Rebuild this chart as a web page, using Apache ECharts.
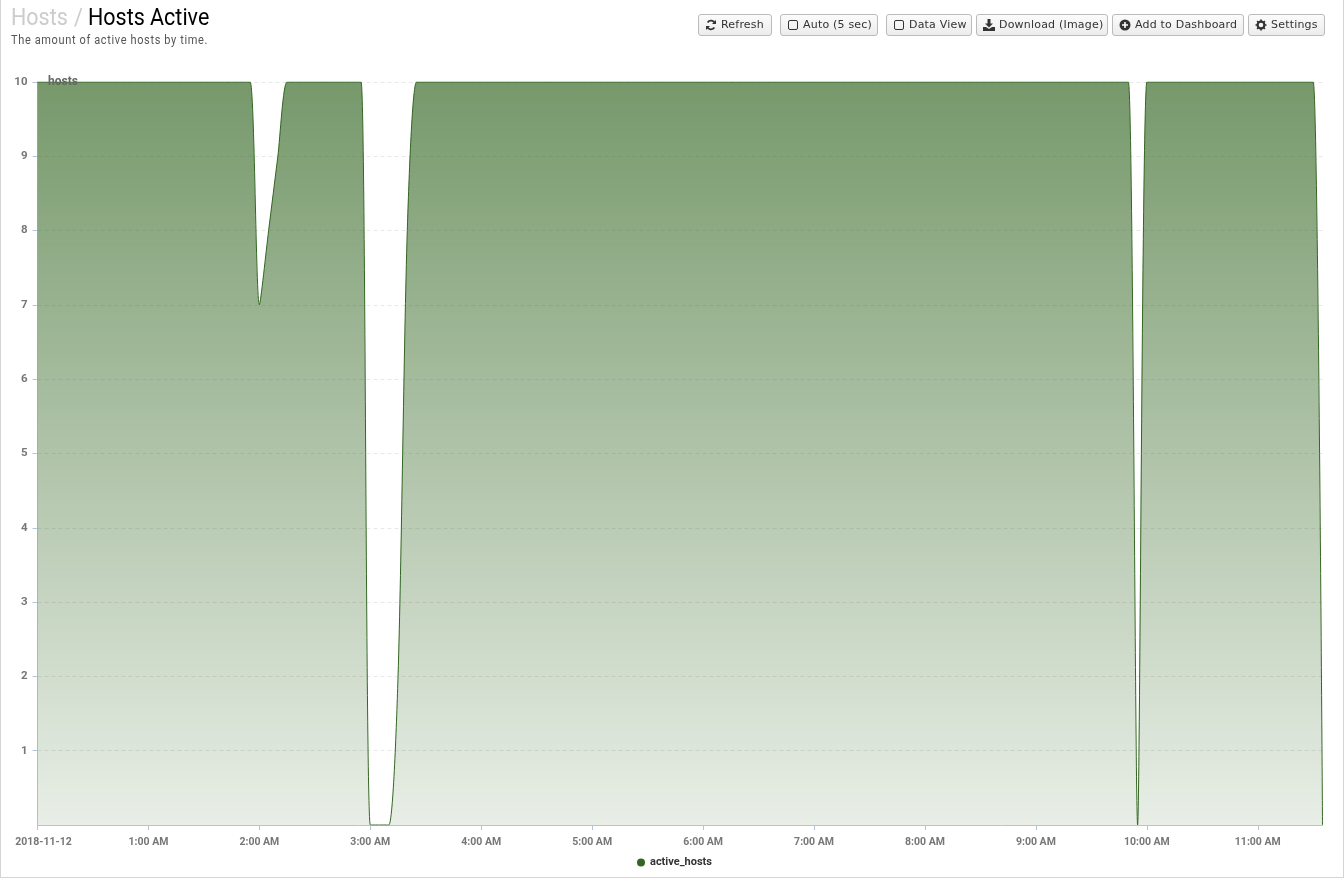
<!DOCTYPE html>
<html><head><meta charset="utf-8">
<script src="https://cdn.jsdelivr.net/npm/echarts@6/dist/echarts.min.js"></script>
<style>
html,body{margin:0;padding:0;background:#fff;overflow:hidden}
#frame{position:absolute;left:0;top:0;width:1342px;height:877px;border:1px solid #d4d4d4;border-top:0}
#chart{position:absolute;left:0;top:0;width:1344px;height:878px}
.t{position:absolute;white-space:pre;transform-origin:0 0;font-family:Roboto,sans-serif}
.btn{position:absolute;top:14px;height:20px;box-sizing:content-box;border:1px solid #bbb;border-radius:3px;background:linear-gradient(#fbfbfb,#ececec);font:11px/20px "DejaVu Sans",sans-serif;letter-spacing:.2px;color:#333;white-space:pre}
.btn svg{position:absolute;left:6px;top:4px;width:12px;height:12px}
.btn span{position:absolute;top:0}
</style></head><body>
<div id="frame"></div>
<div id="chart"></div>
<div class="t" style="left:11px;top:3px;font-size:24px;line-height:28px;word-spacing:1px;color:#ccc;transform:scaleX(.895)">Hosts /</div>
<div class="t" style="left:88px;top:3px;font-size:24px;line-height:28px;color:#000;transform:scaleX(.895)">Hosts Active</div>
<div class="t" style="left:11px;top:31.5px;font-size:12.5px;line-height:16px;letter-spacing:.72px;color:#555;transform:scaleX(.88)">The amount of active hosts by time.</div>
<div class="btn" style="left:698px;width:72px"><svg viewBox="0 0 12 12"><path d="M10 4.5A4.2 4.2 0 0 0 2.6 3.4M2 7.5a4.2 4.2 0 0 0 7.4 1.1" fill="none" stroke="#333" stroke-width="1.8"/><path d="M11 1v4H7zM1 11V7h4z" fill="#333"/></svg><span style="left:22px">Refresh</span></div>
<div class="btn" style="left:780px;width:96px"><svg viewBox="0 0 12 12"><rect x="1.5" y="1.5" width="9" height="9" rx="1.5" fill="none" stroke="#333"/></svg><span style="left:22px">Auto (5 sec)</span></div>
<div class="btn" style="left:886px;width:84px"><svg viewBox="0 0 12 12"><rect x="1.5" y="1.5" width="9" height="9" rx="1.5" fill="none" stroke="#333"/></svg><span style="left:22px">Data View</span></div>
<div class="btn" style="left:976px;width:130px"><svg viewBox="0 0 12 12"><path d="M4.5 0h3v4.5H10L6 8.5 2 4.5h2.5zM0 8h3l3 2 3-2h3v4H0z" fill="#333"/></svg><span style="left:22px">Download (Image)</span></div>
<div class="btn" style="left:1112px;width:130px"><svg viewBox="0 0 12 12"><circle cx="6" cy="6" r="5.5" fill="#333"/><path d="M6 3v6M3 6h6" stroke="#fff" stroke-width="1.6"/></svg><span style="left:22px">Add to Dashboard</span></div>
<div class="btn" style="left:1248px;width:75px"><svg viewBox="0 0 12 12"><circle cx="6" cy="6" r="3.4" fill="none" stroke="#333" stroke-width="2.2"/><path d="M6 .5v2.5M6 9v2.5M.5 6H3M9 6h2.5M2.1 2.1l1.8 1.8M8.1 8.1l1.8 1.8M9.9 2.1L8.1 3.9M3.9 8.1L2.1 9.9" stroke="#333" stroke-width="1.7"/></svg><span style="left:22px">Settings</span></div>
<script>
const seriesName = "active_hosts";
const yAxisName = "hosts";
const categories = [
"2018-11-12","12:05 AM","12:10 AM","12:15 AM","12:20 AM","12:25 AM","12:30 AM","12:35 AM","12:40 AM","12:45 AM","12:50 AM","12:55 AM",
"1:00 AM","1:05 AM","1:10 AM","1:15 AM","1:20 AM","1:25 AM","1:30 AM","1:35 AM","1:40 AM","1:45 AM","1:50 AM","1:55 AM",
"2:00 AM","2:05 AM","2:10 AM","2:15 AM","2:20 AM","2:25 AM","2:30 AM","2:35 AM","2:40 AM","2:45 AM","2:50 AM","2:55 AM",
"3:00 AM","3:05 AM","3:10 AM","3:15 AM","3:20 AM","3:25 AM","3:30 AM","3:35 AM","3:40 AM","3:45 AM","3:50 AM","3:55 AM",
"4:00 AM","4:05 AM","4:10 AM","4:15 AM","4:20 AM","4:25 AM","4:30 AM","4:35 AM","4:40 AM","4:45 AM","4:50 AM","4:55 AM",
"5:00 AM","5:05 AM","5:10 AM","5:15 AM","5:20 AM","5:25 AM","5:30 AM","5:35 AM","5:40 AM","5:45 AM","5:50 AM","5:55 AM",
"6:00 AM","6:05 AM","6:10 AM","6:15 AM","6:20 AM","6:25 AM","6:30 AM","6:35 AM","6:40 AM","6:45 AM","6:50 AM","6:55 AM",
"7:00 AM","7:05 AM","7:10 AM","7:15 AM","7:20 AM","7:25 AM","7:30 AM","7:35 AM","7:40 AM","7:45 AM","7:50 AM","7:55 AM",
"8:00 AM","8:05 AM","8:10 AM","8:15 AM","8:20 AM","8:25 AM","8:30 AM","8:35 AM","8:40 AM","8:45 AM","8:50 AM","8:55 AM",
"9:00 AM","9:05 AM","9:10 AM","9:15 AM","9:20 AM","9:25 AM","9:30 AM","9:35 AM","9:40 AM","9:45 AM","9:50 AM","9:55 AM",
"10:00 AM","10:05 AM","10:10 AM","10:15 AM","10:20 AM","10:25 AM","10:30 AM","10:35 AM","10:40 AM","10:45 AM","10:50 AM","10:55 AM",
"11:00 AM","11:05 AM","11:10 AM","11:15 AM","11:20 AM","11:25 AM","11:30 AM","11:35 AM"];
const activeHosts = [
10,10,10,10,10,10,10,10,10,10,10,10,
10,10,10,10,10,10,10,10,10,10,10,10,
7,8,9,10,10,10,10,10,10,10,10,10,
0,0,0,2,8,10,10,10,10,10,10,10,
10,10,10,10,10,10,10,10,10,10,10,10,
10,10,10,10,10,10,10,10,10,10,10,10,
10,10,10,10,10,10,10,10,10,10,10,10,
10,10,10,10,10,10,10,10,10,10,10,10,
10,10,10,10,10,10,10,10,10,10,10,10,
10,10,10,10,10,10,10,10,10,10,10,0,
10,10,10,10,10,10,10,10,10,10,10,10,
10,10,10,10,10,10,10,0];
const FONT = '"Liberation Sans Narrow","Roboto",sans-serif';
const AXIS = '#b4c5d8';
const hourly = function(i){return i%12===0;};
const chart = echarts.init(document.getElementById('chart'), null, {renderer:'canvas'});
chart.setOption({
  animation:false,
  title:{text:yAxisName,left:48,top:76,padding:0,textStyle:{fontFamily:FONT,fontSize:12,fontWeight:'bold',color:'#666'}},
  grid:{left:37.5,right:21.5,top:82,bottom:53,containLabel:false},
  legend:{show:true,bottom:5,left:632,icon:'circle',itemWidth:8,itemHeight:8,itemGap:5,
    data:[seriesName],textStyle:{fontFamily:FONT,fontSize:11,fontWeight:'bold',color:'#333'}},
  xAxis:{type:'category',data:categories,boundaryGap:false,
    axisLine:{show:true,lineStyle:{color:AXIS}},
    axisTick:{show:true,interval:hourly,length:5,lineStyle:{color:AXIS,width:1}},
    axisLabel:{interval:hourly,hideOverlap:false,margin:12,fontFamily:FONT,fontSize:10.5,fontWeight:'bold',color:'#777',
      formatter:function(v,i){return i===0?'{first|'+v+'}':v;},
      rich:{first:{padding:[0,0,0,12],fontFamily:FONT,fontSize:10.5,fontWeight:'bold',color:'#777'}}},
    splitLine:{show:false}},
  yAxis:{type:'value',min:0,max:10,interval:1,
    axisLine:{show:true,lineStyle:{color:AXIS}},
    axisTick:{show:true,length:5,lineStyle:{color:AXIS,width:1}},
    axisLabel:{margin:10,fontFamily:FONT,fontSize:11.5,fontWeight:'bold',color:'#777',showMinLabel:false},
    splitLine:{show:true,lineStyle:{type:[4,3],color:'#e8e8e8'}}},
  series:[{name:seriesName,type:'line',data:activeHosts,smooth:0.25,symbol:'none',
    lineStyle:{width:1,color:'#336622'},itemStyle:{color:'#336622'},
    areaStyle:{opacity:1,color:new echarts.graphic.LinearGradient(0,0,0,1,[
      {offset:0,color:'rgba(51,102,34,0.67)'},{offset:1,color:'rgba(51,102,34,0.11)'}])}}]
});
</script>
</body></html>
